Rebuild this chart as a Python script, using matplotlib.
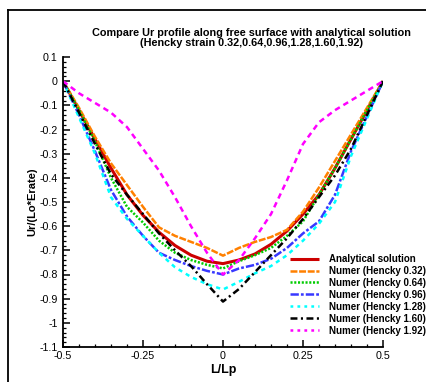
import matplotlib
matplotlib.use("Agg")
import matplotlib.pyplot as plt
from matplotlib.ticker import MultipleLocator, FixedLocator
from matplotlib.lines import Line2D

plt.rcParams['font.family'] = ['Liberation Sans', 'DejaVu Sans']
plt.rcParams['lines.scale_dashes'] = False

x = [-0.5, -0.45, -0.4, -0.35, -0.3, -0.25, -0.2, -0.15, -0.1, -0.05, 0.0,
     0.05, 0.1, 0.15, 0.2, 0.25, 0.3, 0.35, 0.4, 0.45, 0.5]

analytical = [0, -0.12, -0.24, -0.36, -0.47, -0.555, -0.625, -0.68, -0.72, -0.745, -0.755,
              -0.74, -0.715, -0.675, -0.62, -0.55, -0.47, -0.36, -0.24, -0.12, 0]
hencky_032 = [0, -0.11, -0.23, -0.34, -0.43, -0.52, -0.605, -0.64, -0.665, -0.69, -0.722,
              -0.69, -0.665, -0.645, -0.615, -0.54, -0.44, -0.33, -0.22, -0.11, 0]
hencky_064 = [0, -0.12, -0.25, -0.40, -0.52, -0.585, -0.66, -0.71, -0.74, -0.76, -0.775,
              -0.745, -0.72, -0.69, -0.64, -0.58, -0.47, -0.36, -0.24, -0.12, 0]
hencky_096 = [0, -0.14, -0.29, -0.45, -0.56, -0.64, -0.71, -0.74, -0.765, -0.785, -0.80,
              -0.775, -0.76, -0.735, -0.69, -0.63, -0.58, -0.47, -0.29, -0.145, 0]
hencky_128 = [0, -0.15, -0.30, -0.48, -0.57, -0.64, -0.71, -0.77, -0.81, -0.84, -0.862,
              -0.83, -0.795, -0.765, -0.72, -0.66, -0.59, -0.50, -0.31, -0.155, 0]
hencky_160 = [0, -0.13, -0.26, -0.385, -0.47, -0.55, -0.63, -0.70, -0.765, -0.84, -0.912,
              -0.86, -0.79, -0.72, -0.65, -0.57, -0.48, -0.39, -0.28, -0.14, 0]
hencky_192 = [0, -0.05, -0.09, -0.13, -0.19, -0.28, -0.37, -0.48, -0.60, -0.71, -0.80,
              -0.74, -0.65, -0.55, -0.41, -0.26, -0.17, -0.12, -0.08, -0.04, 0]

labels = ["Analytical solution", "Numer (Hencky 0.32)", "Numer (Hencky 0.64)",
          "Numer (Hencky 0.96)", "Numer (Hencky 1.28)", "Numer (Hencky 1.60)",
          "Numer (Hencky 1.92)"]
xticks = [-0.5, -0.25, 0, 0.25, 0.5]
xticklabels = ["-0.5", "-0.25", "0", "0.25", "0.5"]
yticks = [0.1, 0, -0.1, -0.2, -0.3, -0.4, -0.5, -0.6, -0.7, -0.8, -0.9, -1.0, -1.1]
yticklabels = ["0.1", "0", "-0.1", "-0.2", "-0.3", "-0.4", "-0.5", "-0.6", "-0.7",
               "-0.8", "-0.9", "-1", "-1.1"]

series = [analytical, hencky_032, hencky_064, hencky_096, hencky_128, hencky_160, hencky_192]
colors = ["#cc0000", "#ff8000", "#00cc00", "#3838ff", "#00ffff", "#000000", "#ff00ff"]
styles = [(0, ()), (0, (5, 1.2)), (0, (1.5, 1.2)), (0, (6, 1.5, 2, 1.5)),
          (0, (3, 3)), (0, (5, 2.5, 1.5, 2.5)), (0, (4, 3))]
lws = [2.2, 1.8, 1.8, 1.8, 1.8, 1.8, 1.8]

fig = plt.figure(figsize=(4.27, 3.82), dpi=100)
ax = fig.add_axes([63/427, 1-347/382, 320/427, 290/382])

for ys, c, ls, lw in zip(series, colors, styles, lws):
    ax.plot(x, ys, color=c, linestyle=ls, linewidth=lw, solid_capstyle='butt')

ax.set_xlim(-0.5, 0.5)
ax.set_ylim(-1.1, 0.1)
ax.spines['top'].set_visible(False)
ax.spines['right'].set_visible(False)
ax.spines['left'].set_linewidth(1.3)
ax.spines['bottom'].set_linewidth(1.3)
ax.xaxis.set_major_locator(FixedLocator(xticks))
ax.set_xticklabels(xticklabels)
ax.yaxis.set_major_locator(FixedLocator(yticks))
ax.set_yticklabels(yticklabels)
ax.xaxis.set_minor_locator(MultipleLocator(0.05))
ax.yaxis.set_minor_locator(MultipleLocator(0.02))
ax.tick_params(which='major', direction='in', length=5, width=1.1, labelsize=7.7, pad=3)
ax.tick_params(which='minor', direction='in', length=2.5, width=0.9)
ax.tick_params(axis='y', pad=4)

ax.set_xlabel("L/Lp", fontsize=9, fontweight='bold', labelpad=2)
ax.set_ylabel("Ur/(Lo*Erate)", fontsize=8, fontweight='bold', labelpad=1)

fig.text(0.589, 1-38/382,
         "Compare Ur profile along free surface with analytical solution\n(Hencky strain 0.32,0.64,0.96,1.28,1.60,1.92)",
         ha='center', va='center', fontsize=7.8, fontweight='bold', linespacing=1.0)

handles = [Line2D([], [], color=c, linestyle=ls, linewidth=lw)
           for c, ls, lw in zip(colors, styles, lws)]
handles[6] = Line2D([], [], color=colors[6], linestyle=(0, (2, 3)), linewidth=1.8)
handles[4] = Line2D([], [], color=colors[4], linestyle=(0, (2, 3)), linewidth=1.8)
fig.legend(handles, labels, loc='upper left', bbox_to_anchor=(290/427, 1-254/382),
           frameon=False, prop={'weight': 'bold', 'size': 7}, handlelength=3.0,
           handletextpad=1.0, labelspacing=0.2, borderpad=0, borderaxespad=0)

# figure frame
fig.add_artist(Line2D([8/427, 1.0], [1-10/382, 1-10/382], color='black', linewidth=1.3,
                      transform=fig.transFigure))
fig.add_artist(Line2D([8/427, 8/427], [0, 1-10/382], color='black', linewidth=1.3,
                      transform=fig.transFigure))

fig.savefig("out.png", dpi=100)
